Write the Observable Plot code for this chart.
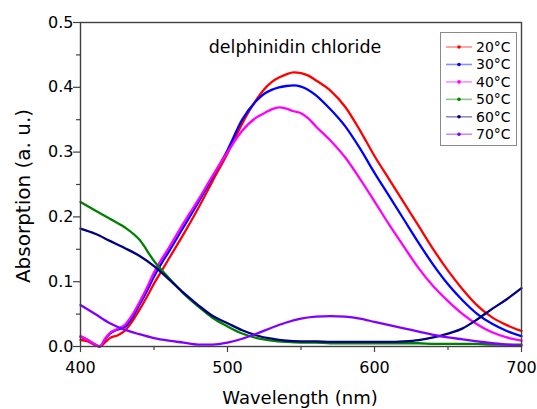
<!DOCTYPE html>
<html>
<head>
<meta charset="utf-8">
<script src="https://cdn.jsdelivr.net/npm/d3@7"></script>
<script src="https://cdn.jsdelivr.net/npm/@observablehq/plot@0.6"></script>
<style>
  html, body { margin: 0; padding: 0; background: #fff; }
  #chart svg { display: block; }
</style>
</head>
<body>
<div id="chart"></div>
<script>
// ---- data ----
const title = "delphinidin chloride";
const xLabel = "Wavelength (nm)";
const yLabel = "Absorption (a. u.)";
const seriesNames = ["20°C", "30°C", "40°C", "50°C", "60°C", "70°C"];
const seriesColors = ["#ff0000", "#0000ff", "#ff00ff", "#008000", "#000080", "#8000ff"];

const xMajor = [400, 500, 600, 700];
const xMinor = [450, 550, 650];
const yMajor = [0, 0.1, 0.2, 0.3, 0.4, 0.5];
const yMinor = [0.05, 0.15, 0.25, 0.35, 0.45];

// wavelength grid for 20/30/40 °C
const wlA = [400,405,410,413,417,420,425,430,435,440,445,450,455,460,470,480,490,500,510,520,525,530,535,540,545,550,555,560,570,580,590,600,610,620,630,640,650,660,670,680,690,700];
const abs20 = [.010,.008,.002,.000,.007,.013,.017,.024,.038,.056,.076,.097,.116,.135,.173,.213,.256,.298,.344,.382,.397,.408,.415,.420,.423,.422,.418,.411,.395,.370,.334,.294,.258,.222,.186,.150,.117,.088,.063,.045,.033,.024];
const abs30 = [.015,.010,.003,.000,.012,.020,.026,.030,.044,.064,.085,.108,.128,.146,.184,.222,.262,.303,.350,.380,.390,.396,.400,.402,.403,.401,.396,.388,.366,.340,.306,.268,.232,.196,.160,.126,.096,.071,.050,.035,.024,.016];
const abs40 = [.016,.010,.003,.000,.013,.021,.027,.033,.048,.068,.090,.114,.134,.152,.190,.226,.264,.300,.333,.354,.360,.366,.369,.367,.363,.360,.352,.340,.318,.292,.259,.224,.188,.154,.121,.093,.070,.050,.034,.022,.014,.009];

// wavelength grid for 50/60/70 °C
const wlB = [400,410,420,430,440,450,460,470,480,490,500,510,520,530,540,550,560,570,580,590,600,610,620,630,640,650,660,670,680,690,700];
const abs50 = [.223,.210,.197,.184,.165,.132,.106,.082,.062,.044,.031,.020,.013,.009,.007,.006,.006,.005,.005,.005,.005,.005,.005,.005,.004,.004,.004,.004,.003,.003,.003];
const abs60 = [.182,.174,.163,.152,.140,.124,.104,.083,.064,.047,.036,.025,.017,.012,.009,.008,.008,.007,.007,.007,.007,.007,.008,.010,.014,.020,.028,.042,.058,.073,.090];
const abs70 = [.064,.050,.036,.026,.019,.013,.009,.006,.003,.003,.006,.012,.020,.029,.037,.043,.046,.047,.046,.043,.038,.033,.028,.023,.018,.014,.011,.008,.005,.003,.0015];

// build table
const seriesWl = [wlA, wlA, wlA, wlB, wlB, wlB];
const seriesAbs = [abs20, abs30, abs40, abs50, abs60, abs70];
const rows = [];
seriesNames.forEach((name, i) => {
  seriesWl[i].forEach((w, j) => rows.push({series: name, wl: w, abs: seriesAbs[i][j]}));
});

const font = "DejaVu Sans";
const axisColor = "#404040";

const lineMarks = seriesNames.map((name, i) =>
  Plot.line(rows.filter(d => d.series === name), {
    x: "wl", y: "abs", stroke: seriesColors[i], strokeWidth: 2.3, curve: "monotone-x"
  })
);

const chart = Plot.plot({
  width: 537,
  height: 409,
  marginLeft: 80,
  marginRight: 16,
  marginTop: 22,
  marginBottom: 63,
  style: {fontFamily: font, fontSize: "16px", color: "#000", background: "#fff"},
  x: {domain: [400, 700]},
  y: {domain: [0, 0.5]},
  marks: [
    ...lineMarks,
    Plot.axisX({ticks: xMajor, tickSize: 6, tickPadding: 9, tickFormat: d3.format("d"), fontSize: 16, label: null, stroke: axisColor, strokeWidth: 1.2, fill: "#000"}),
    Plot.axisX({ticks: xMinor, tickSize: 4, tickFormat: () => "", label: null, stroke: axisColor, strokeWidth: 1.2}),
    Plot.axisY({ticks: yMajor, tickSize: 7, tickPadding: 0, tickFormat: d3.format(".1f"), fontSize: 16, label: null, stroke: axisColor, strokeWidth: 1.2, fill: "#000"}),
    Plot.axisY({ticks: yMinor, tickSize: 4, tickFormat: () => "", label: null, stroke: axisColor, strokeWidth: 1.2}),
    Plot.frame({stroke: axisColor, strokeWidth: 1.4})
  ]
});

document.getElementById("chart").appendChild(chart);

// titles and legend
const svg = d3.select(chart);
svg.append("text")
  .attr("x", 295).attr("y", 53)
  .attr("text-anchor", "middle")
  .style("font-family", font).style("font-size", "17.5px").attr("fill", "#000")
  .text(title);
svg.append("text")
  .attr("x", 300).attr("y", 404)
  .attr("text-anchor", "middle")
  .style("font-family", font).style("font-size", "18px").attr("fill", "#000")
  .text(xLabel);
svg.append("text")
  .attr("transform", "translate(30,196) rotate(-90)")
  .attr("text-anchor", "middle")
  .style("font-family", font).style("font-size", "20px").attr("fill", "#000")
  .text(yLabel);

const lg = svg.append("g");
lg.append("rect")
  .attr("x", 440.5).attr("y", 32.5).attr("width", 76).attr("height", 113)
  .attr("fill", "#fff").attr("stroke", "#8a8a8a").attr("stroke-width", 1);
seriesNames.forEach((name, i) => {
  const cy = 47 + i * 17.45;
  lg.append("line")
    .attr("x1", 446).attr("x2", 472).attr("y1", cy).attr("y2", cy)
    .attr("stroke", seriesColors[i]).attr("stroke-opacity", 0.45).attr("stroke-width", 1.6);
  lg.append("circle")
    .attr("cx", 459).attr("cy", cy).attr("r", 1.8).attr("fill", seriesColors[i]);
  lg.append("text")
    .attr("x", 476).attr("y", cy).attr("dy", "0.36em")
    .attr("text-anchor", "start")
    .style("font-family", font).style("font-size", "14px").attr("fill", "#000")
    .text(name);
});
</script>
</body>
</html>
